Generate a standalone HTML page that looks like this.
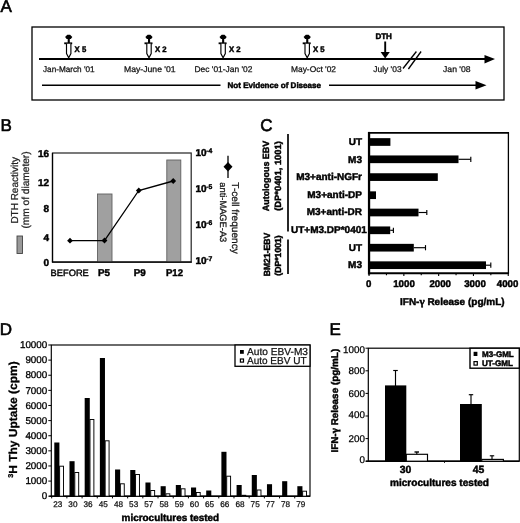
<!DOCTYPE html>
<html><head><meta charset="utf-8"><title>Figure</title>
<style>
html,body{margin:0;padding:0;background:#fff;}
svg{display:block;font-family:"Liberation Sans",sans-serif;text-rendering:geometricPrecision;filter:blur(0.35px);}
</style></head>
<body>
<svg width="520" height="523" viewBox="0 0 520 523">
<rect width="520" height="523" fill="#fff"/>
<text x="0.5" y="12.3" font-size="17" font-weight="normal" text-anchor="start" fill="#000" stroke="#000" stroke-width="0.6" >A</text>
<text x="0.6" y="131.1" font-size="17" font-weight="normal" text-anchor="start" fill="#000" stroke="#000" stroke-width="0.6" >B</text>
<text x="260.2" y="130.8" font-size="17" font-weight="normal" text-anchor="start" fill="#000" stroke="#000" stroke-width="0.6" >C</text>
<text x="-0.3" y="334.9" font-size="17" font-weight="normal" text-anchor="start" fill="#000" stroke="#000" stroke-width="0.6" >D</text>
<text x="329.4" y="335.0" font-size="17" font-weight="normal" text-anchor="start" fill="#000" stroke="#000" stroke-width="0.6" >E</text>
<rect x="32" y="27" width="472.00" height="73.00" fill="none" stroke="#000" stroke-width="1.3"/>
<line x1="39" y1="59" x2="486" y2="59" stroke="#000" stroke-width="2.0" />
<polygon points="484.5,55 495,59 484.5,63.4" fill="#000"/>
<line x1="42" y1="85.3" x2="220.5" y2="85.3" stroke="#000" stroke-width="1.6" />
<line x1="329" y1="85.3" x2="477" y2="85.3" stroke="#000" stroke-width="1.6" />
<polygon points="475.5,81 486.5,85.3 475.5,89.6" fill="#000"/>
<g transform="translate(68.6,59)"><polygon points="-3.5,-22 -1.3,-24.2 1.5,-24.2 3.7,-22 2.2,-20 -2,-20" fill="#000"/>
<rect x="-0.9" y="-20.6" width="2.1" height="5" fill="#000"/>
<rect x="-4.4" y="-16.6" width="8" height="1.8" fill="#000"/>
<path d="M-2.1,-15.2 L-2.1,-5.5 L0.1,-1.3 L2.3,-5.5 L2.3,-15.2" fill="#fff" stroke="#000" stroke-width="1.15"/></g>
<g transform="translate(148.9,59)"><polygon points="-3.5,-22 -1.3,-24.2 1.5,-24.2 3.7,-22 2.2,-20 -2,-20" fill="#000"/>
<rect x="-0.9" y="-20.6" width="2.1" height="5" fill="#000"/>
<rect x="-4.4" y="-16.6" width="8" height="1.8" fill="#000"/>
<path d="M-2.1,-15.2 L-2.1,-5.5 L0.1,-1.3 L2.3,-5.5 L2.3,-15.2" fill="#fff" stroke="#000" stroke-width="1.15"/></g>
<g transform="translate(223,59)"><polygon points="-3.5,-22 -1.3,-24.2 1.5,-24.2 3.7,-22 2.2,-20 -2,-20" fill="#000"/>
<rect x="-0.9" y="-20.6" width="2.1" height="5" fill="#000"/>
<rect x="-4.4" y="-16.6" width="8" height="1.8" fill="#000"/>
<path d="M-2.1,-15.2 L-2.1,-5.5 L0.1,-1.3 L2.3,-5.5 L2.3,-15.2" fill="#fff" stroke="#000" stroke-width="1.15"/></g>
<g transform="translate(307.1,59)"><polygon points="-3.5,-22 -1.3,-24.2 1.5,-24.2 3.7,-22 2.2,-20 -2,-20" fill="#000"/>
<rect x="-0.9" y="-20.6" width="2.1" height="5" fill="#000"/>
<rect x="-4.4" y="-16.6" width="8" height="1.8" fill="#000"/>
<path d="M-2.1,-15.2 L-2.1,-5.5 L0.1,-1.3 L2.3,-5.5 L2.3,-15.2" fill="#fff" stroke="#000" stroke-width="1.15"/></g>
<text x="74.6" y="51.7" font-size="7.9" font-weight="bold" text-anchor="start" fill="#000" stroke="#000" stroke-width="0.45" textLength="11.6" lengthAdjust="spacingAndGlyphs" >X 5</text>
<text x="155" y="51.7" font-size="7.9" font-weight="bold" text-anchor="start" fill="#000" stroke="#000" stroke-width="0.45" textLength="11.6" lengthAdjust="spacingAndGlyphs" >X 2</text>
<text x="229" y="51.7" font-size="7.9" font-weight="bold" text-anchor="start" fill="#000" stroke="#000" stroke-width="0.45" textLength="11.6" lengthAdjust="spacingAndGlyphs" >X 2</text>
<text x="313" y="51.7" font-size="7.9" font-weight="bold" text-anchor="start" fill="#000" stroke="#000" stroke-width="0.45" textLength="11.6" lengthAdjust="spacingAndGlyphs" >X 5</text>
<text x="43" y="71.6" font-size="8.2" font-weight="normal" text-anchor="start" fill="#111" stroke="#111" stroke-width="0.25" textLength="51.6" lengthAdjust="spacingAndGlyphs" >Jan-March '01</text>
<text x="124" y="71.6" font-size="8.3" font-weight="normal" text-anchor="start" fill="#111" stroke="#111" stroke-width="0.25" textLength="51.6" lengthAdjust="spacingAndGlyphs" >May-June '01</text>
<text x="194.5" y="71.6" font-size="8.3" font-weight="normal" text-anchor="start" fill="#111" stroke="#111" stroke-width="0.25" textLength="58" lengthAdjust="spacingAndGlyphs" >Dec '01-Jan '02</text>
<text x="291" y="71.6" font-size="8.3" font-weight="normal" text-anchor="start" fill="#111" stroke="#111" stroke-width="0.25" textLength="45" lengthAdjust="spacingAndGlyphs" >May-Oct '02</text>
<text x="373.3" y="71.6" font-size="8.3" font-weight="normal" text-anchor="start" fill="#111" stroke="#111" stroke-width="0.25" textLength="28.3" lengthAdjust="spacingAndGlyphs" >July '03</text>
<text x="443" y="71.6" font-size="8.3" font-weight="normal" text-anchor="start" fill="#111" stroke="#111" stroke-width="0.25" textLength="27.6" lengthAdjust="spacingAndGlyphs" >Jan '08</text>
<text x="375.4" y="39" font-size="8.2" font-weight="bold" text-anchor="start" fill="#000" stroke="#000" stroke-width="0.45" textLength="16.5" lengthAdjust="spacingAndGlyphs" >DTH</text>
<line x1="385.2" y1="41.5" x2="385.2" y2="53" stroke="#000" stroke-width="1.9" />
<polygon points="380.6,52 389.8,52 385.2,58.6" fill="#000"/>
<line x1="403" y1="68.5" x2="416.4" y2="51.5" stroke="#000" stroke-width="1.3" />
<line x1="408.4" y1="69" x2="421.1" y2="51.5" stroke="#000" stroke-width="1.3" />
<text x="227.5" y="87.8" font-size="8.05" font-weight="bold" text-anchor="start" fill="#000" stroke="#000" stroke-width="0.45" textLength="93.5" lengthAdjust="spacingAndGlyphs" >Not Evidence of Disease</text>
<rect x="52.5" y="153" width="138.70" height="109.00" fill="#fff" stroke="#222" stroke-width="1.2"/>
<rect x="97.5" y="194" width="14.50" height="68.00" fill="#a0a0a0" stroke="#606060" stroke-width="0.9"/>
<rect x="166.8" y="160" width="14.00" height="102.00" fill="#a0a0a0" stroke="#606060" stroke-width="0.9"/>
<line x1="51.9" y1="262" x2="191.79999999999998" y2="262" stroke="#000" stroke-width="1.25" />
<line x1="52.5" y1="153" x2="52.5" y2="262" stroke="#000" stroke-width="1.25" />
<polyline points="70,240.7 104.5,240.5 138.8,190.5 173.2,181" fill="none" stroke="#000" stroke-width="1.3"/>
<polygon points="67.1,240.7 70,237.79999999999998 72.9,240.7 70,243.6" fill="#000"/>
<polygon points="101.6,240.5 104.5,237.6 107.4,240.5 104.5,243.4" fill="#000"/>
<polygon points="135.9,190.5 138.8,187.6 141.70000000000002,190.5 138.8,193.4" fill="#000"/>
<polygon points="170.29999999999998,181 173.2,178.1 176.1,181 173.2,183.9" fill="#000"/>
<text x="49" y="156.7" font-size="10" font-weight="bold" text-anchor="end" fill="#000" stroke="#000" stroke-width="0.45" >16</text>
<text x="49" y="185.5" font-size="10" font-weight="bold" text-anchor="end" fill="#000" stroke="#000" stroke-width="0.45" >12</text>
<text x="49" y="211.8" font-size="10" font-weight="bold" text-anchor="end" fill="#000" stroke="#000" stroke-width="0.45" >8</text>
<text x="49" y="240.5" font-size="10" font-weight="bold" text-anchor="end" fill="#000" stroke="#000" stroke-width="0.45" >4</text>
<text x="49" y="266.1" font-size="10" font-weight="bold" text-anchor="end" fill="#000" stroke="#000" stroke-width="0.45" >0</text>
<text x="195.4" y="156.1" font-size="10" font-weight="bold" text-anchor="start" fill="#000" stroke="#000" stroke-width="0.45" >10</text>
<text x="206.2" y="152.79999999999998" font-size="6.8" font-weight="bold" text-anchor="start" fill="#000" stroke="#000" stroke-width="0.4" >-4</text>
<text x="195.4" y="191.8" font-size="10" font-weight="bold" text-anchor="start" fill="#000" stroke="#000" stroke-width="0.45" >10</text>
<text x="206.2" y="188.5" font-size="6.8" font-weight="bold" text-anchor="start" fill="#000" stroke="#000" stroke-width="0.4" >-5</text>
<text x="195.4" y="227.8" font-size="10" font-weight="bold" text-anchor="start" fill="#000" stroke="#000" stroke-width="0.45" >10</text>
<text x="206.2" y="224.5" font-size="6.8" font-weight="bold" text-anchor="start" fill="#000" stroke="#000" stroke-width="0.4" >-6</text>
<text x="195.4" y="264.2" font-size="10" font-weight="bold" text-anchor="start" fill="#000" stroke="#000" stroke-width="0.45" >10</text>
<text x="206.2" y="260.9" font-size="6.8" font-weight="bold" text-anchor="start" fill="#000" stroke="#000" stroke-width="0.4" >-7</text>
<text x="50.6" y="276" font-size="9.3" font-weight="normal" text-anchor="start" fill="#000" stroke="#000" stroke-width="0.4" textLength="38.2" lengthAdjust="spacingAndGlyphs" >BEFORE</text>
<text x="98" y="276" font-size="9.8" font-weight="bold" text-anchor="start" fill="#000" stroke="#000" stroke-width="0.45" >P5</text>
<text x="133.8" y="276" font-size="9.8" font-weight="bold" text-anchor="start" fill="#000" stroke="#000" stroke-width="0.45" >P9</text>
<text x="166" y="276" font-size="9.8" font-weight="bold" text-anchor="start" fill="#000" stroke="#000" stroke-width="0.45" textLength="17" lengthAdjust="spacingAndGlyphs" >P12</text>
<rect x="17" y="236" width="5.50" height="17.50" fill="#999" stroke="#444" stroke-width="0.9"/>
<text transform="translate(17.5,223.6) rotate(-90)" font-size="10.1" font-weight="normal" text-anchor="start" fill="#222" stroke="#222" stroke-width="0.25" textLength="66.5" lengthAdjust="spacingAndGlyphs">DTH Reactivity</text>
<text transform="translate(29.4,228.6) rotate(-90)" font-size="10.2" font-weight="normal" text-anchor="start" fill="#222" stroke="#222" stroke-width="0.25" textLength="77.2" lengthAdjust="spacingAndGlyphs">(mm of diameter)</text>
<line x1="228" y1="155.8" x2="228" y2="178" stroke="#000" stroke-width="1.3" />
<polygon points="223.5,166.8 228,162 232.5,166.8 228,171.6" fill="#000"/>
<text transform="translate(232.4,182.3) rotate(90)" font-size="10" font-weight="normal" text-anchor="start" fill="#111" stroke="#111" stroke-width="0.25" textLength="71.5" lengthAdjust="spacingAndGlyphs">T-cell frequency</text>
<text transform="translate(219.8,182.3) rotate(90)" font-size="9.3" font-weight="normal" text-anchor="start" fill="#111" stroke="#111" stroke-width="0.25" textLength="60" lengthAdjust="spacingAndGlyphs">anti-MAGE-A3</text>
<line x1="508.4" y1="132.9" x2="508.4" y2="273.3" stroke="#000" stroke-width="1.3" />
<line x1="369.05" y1="131.9" x2="369.05" y2="274.5" stroke="#000" stroke-width="2.3" />
<line x1="368.05" y1="273.3" x2="509.04999999999995" y2="273.3" stroke="#000" stroke-width="1.9" />
<line x1="368.05" y1="132.9" x2="509.04999999999995" y2="132.9" stroke="#000" stroke-width="1.9" />
<rect x="369.05" y="138.15" width="21.35" height="7.70" fill="#000" stroke="none" stroke-width="1"/>
<text x="362" y="145.1" font-size="10" font-weight="bold" text-anchor="end" fill="#000" stroke="#000" stroke-width="0.45" >UT</text>
<rect x="369.05" y="155.45000000000002" width="89.45" height="7.70" fill="#000" stroke="none" stroke-width="1"/>
<line x1="458.5" y1="159.3" x2="470.8" y2="159.3" stroke="#000" stroke-width="1.15" />
<line x1="470.8" y1="156.70000000000002" x2="470.8" y2="161.9" stroke="#000" stroke-width="1.15" />
<text x="362" y="162.5" font-size="10" font-weight="bold" text-anchor="end" fill="#000" stroke="#000" stroke-width="0.45" >M3</text>
<rect x="369.05" y="173.25" width="68.75" height="7.70" fill="#000" stroke="none" stroke-width="1"/>
<text x="362" y="180.29999999999998" font-size="10" font-weight="bold" text-anchor="end" fill="#000" stroke="#000" stroke-width="0.45" >M3+anti-NGFr</text>
<rect x="369.05" y="191.35" width="6.95" height="7.70" fill="#000" stroke="none" stroke-width="1"/>
<text x="362" y="198.29999999999998" font-size="10" font-weight="bold" text-anchor="end" fill="#000" stroke="#000" stroke-width="0.45" >M3+anti-DP</text>
<rect x="369.05" y="208.65" width="49.45" height="7.70" fill="#000" stroke="none" stroke-width="1"/>
<line x1="418.5" y1="212.5" x2="426.8" y2="212.5" stroke="#000" stroke-width="1.15" />
<line x1="426.8" y1="209.9" x2="426.8" y2="215.1" stroke="#000" stroke-width="1.15" />
<text x="362" y="215.4" font-size="10" font-weight="bold" text-anchor="end" fill="#000" stroke="#000" stroke-width="0.45" >M3+anti-DR</text>
<rect x="369.05" y="226.45000000000002" width="21.15" height="7.70" fill="#000" stroke="none" stroke-width="1"/>
<line x1="390.2" y1="230.3" x2="393.4" y2="230.3" stroke="#000" stroke-width="1.15" />
<line x1="393.4" y1="227.70000000000002" x2="393.4" y2="232.9" stroke="#000" stroke-width="1.15" />
<text x="366.8" y="233.0" font-size="10" font-weight="bold" text-anchor="end" fill="#000" stroke="#000" stroke-width="0.45" textLength="75.8" lengthAdjust="spacingAndGlyphs" >UT+M3.DP*0401</text>
<rect x="369.05" y="243.85" width="44.75" height="7.70" fill="#000" stroke="none" stroke-width="1"/>
<line x1="413.8" y1="247.7" x2="425.5" y2="247.7" stroke="#000" stroke-width="1.15" />
<line x1="425.5" y1="245.1" x2="425.5" y2="250.29999999999998" stroke="#000" stroke-width="1.15" />
<text x="362" y="251.0" font-size="10" font-weight="bold" text-anchor="end" fill="#000" stroke="#000" stroke-width="0.45" >UT</text>
<rect x="369.05" y="261.34999999999997" width="116.95" height="7.70" fill="#000" stroke="none" stroke-width="1"/>
<line x1="486" y1="265.2" x2="490.8" y2="265.2" stroke="#000" stroke-width="1.15" />
<line x1="490.8" y1="262.59999999999997" x2="490.8" y2="267.8" stroke="#000" stroke-width="1.15" />
<text x="362" y="268.4" font-size="10" font-weight="bold" text-anchor="end" fill="#000" stroke="#000" stroke-width="0.45" >M3</text>
<line x1="369.05" y1="273.3" x2="369.05" y2="275.90000000000003" stroke="#000" stroke-width="1.1" />
<line x1="386.45" y1="273.3" x2="386.45" y2="275.3" stroke="#000" stroke-width="1.1" />
<line x1="403.85" y1="273.3" x2="403.85" y2="275.90000000000003" stroke="#000" stroke-width="1.1" />
<line x1="421.25" y1="273.3" x2="421.25" y2="275.3" stroke="#000" stroke-width="1.1" />
<line x1="438.65" y1="273.3" x2="438.65" y2="275.90000000000003" stroke="#000" stroke-width="1.1" />
<line x1="456.05" y1="273.3" x2="456.05" y2="275.3" stroke="#000" stroke-width="1.1" />
<line x1="473.45" y1="273.3" x2="473.45" y2="275.90000000000003" stroke="#000" stroke-width="1.1" />
<line x1="490.85" y1="273.3" x2="490.85" y2="275.3" stroke="#000" stroke-width="1.1" />
<line x1="508.25" y1="273.3" x2="508.25" y2="275.90000000000003" stroke="#000" stroke-width="1.1" />
<text x="368.8" y="286.5" font-size="9.7" font-weight="bold" text-anchor="middle" fill="#000" stroke="#000" stroke-width="0.45" >0</text>
<text x="404" y="286.5" font-size="9.7" font-weight="bold" text-anchor="middle" fill="#000" stroke="#000" stroke-width="0.45" >1000</text>
<text x="440.2" y="286.5" font-size="9.7" font-weight="bold" text-anchor="middle" fill="#000" stroke="#000" stroke-width="0.45" >2000</text>
<text x="475" y="286.5" font-size="9.7" font-weight="bold" text-anchor="middle" fill="#000" stroke="#000" stroke-width="0.45" >3000</text>
<text x="507.6" y="286.5" font-size="9.7" font-weight="bold" text-anchor="middle" fill="#000" stroke="#000" stroke-width="0.45" >4000</text>
<text x="400" y="305.3" font-size="9.96" font-weight="bold" text-anchor="start" fill="#000" stroke="#000" stroke-width="0.45" textLength="104.6" lengthAdjust="spacingAndGlyphs" >IFN-<tspan font-family="Liberation Serif" font-size="11">γ</tspan> Release (pg/mL)</text>
<line x1="288" y1="134" x2="288" y2="231.6" stroke="#000" stroke-width="1.7" />
<line x1="288" y1="239.5" x2="288" y2="274" stroke="#000" stroke-width="1.7" />
<text transform="translate(269,176) rotate(-90)" font-size="9.0" font-weight="bold" text-anchor="middle" fill="#000" stroke="#000" stroke-width="0.45" textLength="70.5" lengthAdjust="spacingAndGlyphs">Autologous EBV</text>
<text transform="translate(280.5,176) rotate(-90)" font-size="9.0" font-weight="bold" text-anchor="middle" fill="#000" stroke="#000" stroke-width="0.45" textLength="69.5" lengthAdjust="spacingAndGlyphs">(DP*0401, 1001)</text>
<text transform="translate(269.6,254.5) rotate(-90)" font-size="8.9" font-weight="bold" text-anchor="middle" fill="#000" stroke="#000" stroke-width="0.45" textLength="43.5" lengthAdjust="spacingAndGlyphs">BM21-EBV</text>
<text transform="translate(281.3,255.5) rotate(-90)" font-size="8.8" font-weight="bold" text-anchor="middle" fill="#000" stroke="#000" stroke-width="0.45" textLength="40.5" lengthAdjust="spacingAndGlyphs">(DP*1001)</text>
<rect x="51.3" y="345" width="258.70" height="151.20" fill="none" stroke="#000" stroke-width="1.15"/>
<line x1="49.3" y1="496.2" x2="310" y2="496.2" stroke="#000" stroke-width="1.5" />
<line x1="48.3" y1="496.2" x2="51.3" y2="496.2" stroke="#000" stroke-width="1" />
<text x="47.3" y="499.4" font-size="9.85" font-weight="normal" text-anchor="end" fill="#000" stroke="#000" stroke-width="0.32" >0</text>
<line x1="48.3" y1="481.08" x2="51.3" y2="481.08" stroke="#000" stroke-width="1" />
<text x="47.3" y="484.28" font-size="9.85" font-weight="normal" text-anchor="end" fill="#000" stroke="#000" stroke-width="0.32" >1000</text>
<line x1="48.3" y1="465.96" x2="51.3" y2="465.96" stroke="#000" stroke-width="1" />
<text x="47.3" y="469.15999999999997" font-size="9.85" font-weight="normal" text-anchor="end" fill="#000" stroke="#000" stroke-width="0.32" >2000</text>
<line x1="48.3" y1="450.84" x2="51.3" y2="450.84" stroke="#000" stroke-width="1" />
<text x="47.3" y="454.03999999999996" font-size="9.85" font-weight="normal" text-anchor="end" fill="#000" stroke="#000" stroke-width="0.32" >3000</text>
<line x1="48.3" y1="435.72" x2="51.3" y2="435.72" stroke="#000" stroke-width="1" />
<text x="47.3" y="438.92" font-size="9.85" font-weight="normal" text-anchor="end" fill="#000" stroke="#000" stroke-width="0.32" >4000</text>
<line x1="48.3" y1="420.6" x2="51.3" y2="420.6" stroke="#000" stroke-width="1" />
<text x="47.3" y="423.8" font-size="9.85" font-weight="normal" text-anchor="end" fill="#000" stroke="#000" stroke-width="0.32" >5000</text>
<line x1="48.3" y1="405.48" x2="51.3" y2="405.48" stroke="#000" stroke-width="1" />
<text x="47.3" y="408.68" font-size="9.85" font-weight="normal" text-anchor="end" fill="#000" stroke="#000" stroke-width="0.32" >6000</text>
<line x1="48.3" y1="390.36" x2="51.3" y2="390.36" stroke="#000" stroke-width="1" />
<text x="47.3" y="393.56" font-size="9.85" font-weight="normal" text-anchor="end" fill="#000" stroke="#000" stroke-width="0.32" >7000</text>
<line x1="48.3" y1="375.24" x2="51.3" y2="375.24" stroke="#000" stroke-width="1" />
<text x="47.3" y="378.44" font-size="9.85" font-weight="normal" text-anchor="end" fill="#000" stroke="#000" stroke-width="0.32" >8000</text>
<line x1="48.3" y1="360.12" x2="51.3" y2="360.12" stroke="#000" stroke-width="1" />
<text x="47.3" y="363.32" font-size="9.85" font-weight="normal" text-anchor="end" fill="#000" stroke="#000" stroke-width="0.32" >9000</text>
<line x1="48.3" y1="345.0" x2="51.3" y2="345.0" stroke="#000" stroke-width="1" />
<text x="47.3" y="348.2" font-size="9.85" font-weight="normal" text-anchor="end" fill="#000" stroke="#000" stroke-width="0.32" >10000</text>
<rect x="54.3" y="442.5" width="5.10" height="53.70" fill="#000" stroke="none" stroke-width="1"/>
<rect x="59.6" y="466.2" width="3.90" height="30.00" fill="#fff" stroke="#000" stroke-width="0.95"/>
<text x="57.7" y="507.2" font-size="8.2" font-weight="normal" text-anchor="middle" fill="#111" stroke="#111" stroke-width="0.25" >23</text>
<line x1="51.7" y1="496.2" x2="51.7" y2="498.4" stroke="#000" stroke-width="1" />
<rect x="69.49" y="461.2" width="5.10" height="35.00" fill="#000" stroke="none" stroke-width="1"/>
<rect x="74.78999999999999" y="472.5" width="3.90" height="23.70" fill="#fff" stroke="#000" stroke-width="0.95"/>
<text x="72.89" y="507.2" font-size="8.2" font-weight="normal" text-anchor="middle" fill="#111" stroke="#111" stroke-width="0.25" >30</text>
<line x1="66.89" y1="496.2" x2="66.89" y2="498.4" stroke="#000" stroke-width="1" />
<rect x="84.67999999999999" y="398" width="5.10" height="98.20" fill="#000" stroke="none" stroke-width="1"/>
<rect x="89.97999999999999" y="419.5" width="3.90" height="76.70" fill="#fff" stroke="#000" stroke-width="0.95"/>
<text x="88.08" y="507.2" font-size="8.2" font-weight="normal" text-anchor="middle" fill="#111" stroke="#111" stroke-width="0.25" >36</text>
<line x1="82.08" y1="496.2" x2="82.08" y2="498.4" stroke="#000" stroke-width="1" />
<rect x="99.86999999999999" y="358" width="5.10" height="138.20" fill="#000" stroke="none" stroke-width="1"/>
<rect x="105.16999999999999" y="440.8" width="3.90" height="55.40" fill="#fff" stroke="#000" stroke-width="0.95"/>
<text x="103.27" y="507.2" font-size="8.2" font-weight="normal" text-anchor="middle" fill="#111" stroke="#111" stroke-width="0.25" >45</text>
<line x1="97.27000000000001" y1="496.2" x2="97.27000000000001" y2="498.4" stroke="#000" stroke-width="1" />
<rect x="115.05999999999999" y="469.5" width="5.10" height="26.70" fill="#000" stroke="none" stroke-width="1"/>
<rect x="120.35999999999999" y="483.8" width="3.90" height="12.40" fill="#fff" stroke="#000" stroke-width="0.95"/>
<text x="118.46" y="507.2" font-size="8.2" font-weight="normal" text-anchor="middle" fill="#111" stroke="#111" stroke-width="0.25" >48</text>
<line x1="112.46000000000001" y1="496.2" x2="112.46000000000001" y2="498.4" stroke="#000" stroke-width="1" />
<rect x="130.25" y="470" width="5.10" height="26.20" fill="#000" stroke="none" stroke-width="1"/>
<rect x="135.54999999999998" y="474.5" width="3.90" height="21.70" fill="#fff" stroke="#000" stroke-width="0.95"/>
<text x="133.64999999999998" y="507.2" font-size="8.2" font-weight="normal" text-anchor="middle" fill="#111" stroke="#111" stroke-width="0.25" >53</text>
<line x1="127.65" y1="496.2" x2="127.65" y2="498.4" stroke="#000" stroke-width="1" />
<rect x="145.44" y="482.5" width="5.10" height="13.70" fill="#000" stroke="none" stroke-width="1"/>
<rect x="150.73999999999998" y="490.5" width="3.90" height="5.70" fill="#fff" stroke="#000" stroke-width="0.95"/>
<text x="148.83999999999997" y="507.2" font-size="8.2" font-weight="normal" text-anchor="middle" fill="#111" stroke="#111" stroke-width="0.25" >57</text>
<line x1="142.84" y1="496.2" x2="142.84" y2="498.4" stroke="#000" stroke-width="1" />
<rect x="160.63" y="486.2" width="5.10" height="10.00" fill="#000" stroke="none" stroke-width="1"/>
<rect x="165.92999999999998" y="493.8" width="3.90" height="2.40" fill="#fff" stroke="#000" stroke-width="0.95"/>
<text x="164.02999999999997" y="507.2" font-size="8.2" font-weight="normal" text-anchor="middle" fill="#111" stroke="#111" stroke-width="0.25" >58</text>
<line x1="158.03" y1="496.2" x2="158.03" y2="498.4" stroke="#000" stroke-width="1" />
<rect x="175.82" y="485" width="5.10" height="11.20" fill="#000" stroke="none" stroke-width="1"/>
<rect x="181.11999999999998" y="488.8" width="3.90" height="7.40" fill="#fff" stroke="#000" stroke-width="0.95"/>
<text x="179.21999999999997" y="507.2" font-size="8.2" font-weight="normal" text-anchor="middle" fill="#111" stroke="#111" stroke-width="0.25" >59</text>
<line x1="173.22" y1="496.2" x2="173.22" y2="498.4" stroke="#000" stroke-width="1" />
<rect x="191.01000000000002" y="487.5" width="5.10" height="8.70" fill="#000" stroke="none" stroke-width="1"/>
<rect x="196.31" y="492.5" width="3.90" height="3.70" fill="#fff" stroke="#000" stroke-width="0.95"/>
<text x="194.41" y="507.2" font-size="8.2" font-weight="normal" text-anchor="middle" fill="#111" stroke="#111" stroke-width="0.25" >60</text>
<line x1="188.41000000000003" y1="496.2" x2="188.41000000000003" y2="498.4" stroke="#000" stroke-width="1" />
<rect x="206.20000000000002" y="490.5" width="5.10" height="5.70" fill="#000" stroke="none" stroke-width="1"/>
<text x="209.6" y="507.2" font-size="8.2" font-weight="normal" text-anchor="middle" fill="#111" stroke="#111" stroke-width="0.25" >65</text>
<line x1="203.60000000000002" y1="496.2" x2="203.60000000000002" y2="498.4" stroke="#000" stroke-width="1" />
<rect x="221.39000000000001" y="451.8" width="5.10" height="44.40" fill="#000" stroke="none" stroke-width="1"/>
<rect x="226.69" y="476.2" width="3.90" height="20.00" fill="#fff" stroke="#000" stroke-width="0.95"/>
<text x="224.79" y="507.2" font-size="8.2" font-weight="normal" text-anchor="middle" fill="#111" stroke="#111" stroke-width="0.25" >66</text>
<line x1="218.79000000000002" y1="496.2" x2="218.79000000000002" y2="498.4" stroke="#000" stroke-width="1" />
<rect x="236.58" y="485" width="5.10" height="11.20" fill="#000" stroke="none" stroke-width="1"/>
<rect x="241.88" y="495.3" width="3.90" height="0.90" fill="#fff" stroke="#000" stroke-width="0.95"/>
<text x="239.98" y="507.2" font-size="8.2" font-weight="normal" text-anchor="middle" fill="#111" stroke="#111" stroke-width="0.25" >68</text>
<line x1="233.98000000000002" y1="496.2" x2="233.98000000000002" y2="498.4" stroke="#000" stroke-width="1" />
<rect x="251.77" y="475" width="5.10" height="21.20" fill="#000" stroke="none" stroke-width="1"/>
<rect x="257.07" y="490" width="3.90" height="6.20" fill="#fff" stroke="#000" stroke-width="0.95"/>
<text x="255.17" y="507.2" font-size="8.2" font-weight="normal" text-anchor="middle" fill="#111" stroke="#111" stroke-width="0.25" >75</text>
<line x1="249.17000000000002" y1="496.2" x2="249.17000000000002" y2="498.4" stroke="#000" stroke-width="1" />
<rect x="266.96" y="484.2" width="5.10" height="12.00" fill="#000" stroke="none" stroke-width="1"/>
<text x="270.35999999999996" y="507.2" font-size="8.2" font-weight="normal" text-anchor="middle" fill="#111" stroke="#111" stroke-width="0.25" >77</text>
<line x1="264.36" y1="496.2" x2="264.36" y2="498.4" stroke="#000" stroke-width="1" />
<rect x="282.15000000000003" y="481.2" width="5.10" height="15.00" fill="#000" stroke="none" stroke-width="1"/>
<text x="285.55" y="507.2" font-size="8.2" font-weight="normal" text-anchor="middle" fill="#111" stroke="#111" stroke-width="0.25" >78</text>
<line x1="279.55" y1="496.2" x2="279.55" y2="498.4" stroke="#000" stroke-width="1" />
<rect x="297.34" y="486.2" width="5.10" height="10.00" fill="#000" stroke="none" stroke-width="1"/>
<rect x="302.64" y="491.2" width="3.90" height="5.00" fill="#fff" stroke="#000" stroke-width="0.95"/>
<text x="300.73999999999995" y="507.2" font-size="8.2" font-weight="normal" text-anchor="middle" fill="#111" stroke="#111" stroke-width="0.25" >79</text>
<line x1="294.74" y1="496.2" x2="294.74" y2="498.4" stroke="#000" stroke-width="1" />
<text x="121.6" y="521.3" font-size="9.94" font-weight="bold" text-anchor="start" fill="#000" stroke="#000" stroke-width="0.45" textLength="97.6" lengthAdjust="spacingAndGlyphs" >microcultures tested</text>
<text transform="translate(16.7,419.6) rotate(-90)" font-size="11.6" font-weight="bold" text-anchor="middle" stroke="#000" stroke-width="0.28" textLength="116.5" lengthAdjust="spacingAndGlyphs"><tspan font-size="7" dy="-4">3</tspan><tspan dy="4">H Thy Uptake (cpm)</tspan></text>
<rect x="235" y="345" width="75.00" height="21.30" fill="#fff" stroke="#000" stroke-width="1.3"/>
<rect x="240" y="350" width="3.80" height="3.80" fill="#000" stroke="none" stroke-width="1"/>
<rect x="240.4" y="359" width="3.10" height="3.10" fill="#fff" stroke="#000" stroke-width="1.2"/>
<text x="247" y="355.2" font-size="10.1" font-weight="normal" text-anchor="start" fill="#111" stroke="#111" stroke-width="0.25" textLength="61" lengthAdjust="spacingAndGlyphs" >Auto EBV-M3</text>
<text x="247" y="363.9" font-size="10.1" font-weight="normal" text-anchor="start" fill="#111" stroke="#111" stroke-width="0.25" textLength="59.5" lengthAdjust="spacingAndGlyphs" >Auto EBV UT</text>
<rect x="368.3" y="348.2" width="151.00" height="113.00" fill="none" stroke="#000" stroke-width="1.2"/>
<line x1="365.8" y1="461.2" x2="519.3" y2="461.2" stroke="#000" stroke-width="1.6" />
<line x1="365.5" y1="461.2" x2="368.3" y2="461.2" stroke="#000" stroke-width="1" />
<text x="364.9" y="462.9" font-size="9.8" font-weight="normal" text-anchor="end" fill="#000" stroke="#000" stroke-width="0.25" >0</text>
<line x1="365.5" y1="438.59999999999997" x2="368.3" y2="438.59999999999997" stroke="#000" stroke-width="1" />
<text x="364.9" y="441.99999999999994" font-size="9.8" font-weight="normal" text-anchor="end" fill="#000" stroke="#000" stroke-width="0.25" >200</text>
<line x1="365.5" y1="416.0" x2="368.3" y2="416.0" stroke="#000" stroke-width="1" />
<text x="364.9" y="418.4" font-size="9.8" font-weight="normal" text-anchor="end" fill="#000" stroke="#000" stroke-width="0.25" >400</text>
<line x1="365.5" y1="393.4" x2="368.3" y2="393.4" stroke="#000" stroke-width="1" />
<text x="364.9" y="397.29999999999995" font-size="9.8" font-weight="normal" text-anchor="end" fill="#000" stroke="#000" stroke-width="0.25" >600</text>
<line x1="365.5" y1="370.79999999999995" x2="368.3" y2="370.79999999999995" stroke="#000" stroke-width="1" />
<text x="364.9" y="374.3999999999999" font-size="9.8" font-weight="normal" text-anchor="end" fill="#000" stroke="#000" stroke-width="0.25" >800</text>
<line x1="365.5" y1="348.2" x2="368.3" y2="348.2" stroke="#000" stroke-width="1" />
<text x="364.9" y="353.09999999999997" font-size="9.8" font-weight="normal" text-anchor="end" fill="#000" stroke="#000" stroke-width="0.25" >1000</text>
<rect x="385" y="385.4" width="21.30" height="75.80" fill="#000" stroke="none" stroke-width="1"/>
<rect x="406.3" y="454.3" width="21.20" height="6.90" fill="#fff" stroke="#000" stroke-width="1.15"/>
<line x1="395.5" y1="370.5" x2="395.5" y2="386" stroke="#000" stroke-width="1.15" />
<line x1="393.2" y1="370.5" x2="397.8" y2="370.5" stroke="#000" stroke-width="1.15" />
<line x1="416.8" y1="452" x2="416.8" y2="454.3" stroke="#000" stroke-width="1.15" />
<line x1="414.5" y1="452" x2="419" y2="452" stroke="#000" stroke-width="1.4" />
<rect x="460" y="404" width="21.80" height="57.20" fill="#000" stroke="none" stroke-width="1"/>
<rect x="481.8" y="459.4" width="21.60" height="1.80" fill="#fff" stroke="#000" stroke-width="1.15"/>
<line x1="471" y1="394.7" x2="471" y2="404" stroke="#000" stroke-width="1.15" />
<line x1="468.8" y1="394.7" x2="473.2" y2="394.7" stroke="#000" stroke-width="1.15" />
<line x1="492" y1="455.8" x2="492" y2="459.4" stroke="#000" stroke-width="1.15" />
<line x1="489.8" y1="455.8" x2="494.2" y2="455.8" stroke="#000" stroke-width="1.15" />
<line x1="444.5" y1="461.2" x2="444.5" y2="462.8" stroke="#000" stroke-width="1" />
<text x="405.5" y="473.3" font-size="10.4" font-weight="bold" text-anchor="middle" fill="#000" stroke="#000" stroke-width="0.45" >30</text>
<text x="478.6" y="473.3" font-size="10.4" font-weight="bold" text-anchor="middle" fill="#000" stroke="#000" stroke-width="0.45" >45</text>
<text x="390" y="485.5" font-size="10.05" font-weight="bold" text-anchor="start" fill="#000" stroke="#000" stroke-width="0.45" textLength="99" lengthAdjust="spacingAndGlyphs" >microcultures tested</text>
<text transform="translate(337.5,400.7) rotate(-90)" font-size="9.7" font-weight="bold" text-anchor="middle" fill="#000" stroke="#000" stroke-width="0.45" textLength="103.8" lengthAdjust="spacingAndGlyphs">IFN-<tspan font-family="Liberation Serif" font-size="11">γ</tspan> Release (pg/mL)</text>
<rect x="470" y="348.2" width="49.30" height="20.00" fill="#fff" stroke="#000" stroke-width="1.4"/>
<rect x="473.6" y="351.8" width="3.80" height="4.20" fill="#000" stroke="none" stroke-width="1"/>
<rect x="474" y="361.6" width="3.30" height="3.50" fill="#fff" stroke="#000" stroke-width="1.2"/>
<text x="482" y="357.2" font-size="8.1" font-weight="bold" text-anchor="start" fill="#000" stroke="#000" stroke-width="0.45" textLength="31.8" lengthAdjust="spacingAndGlyphs" >M3-GML</text>
<text x="482" y="365.8" font-size="8.1" font-weight="bold" text-anchor="start" fill="#000" stroke="#000" stroke-width="0.45" textLength="31" lengthAdjust="spacingAndGlyphs" >UT-GML</text>
</svg>
</body></html>
